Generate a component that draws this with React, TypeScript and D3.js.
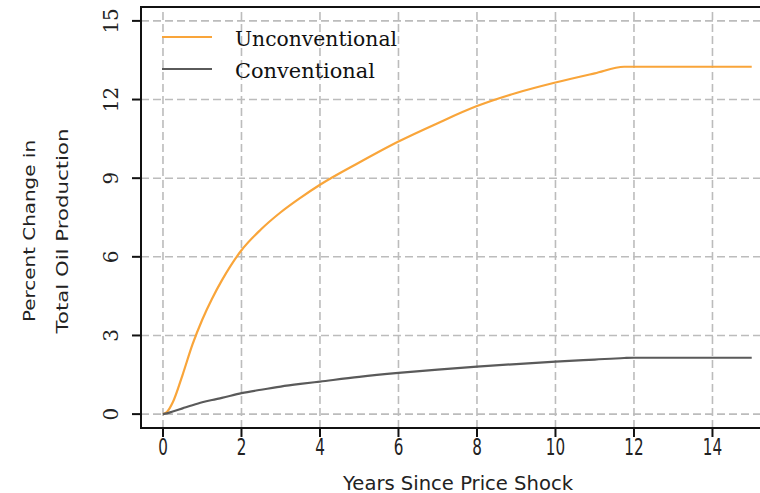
import React from "react";
import * as d3 from "d3";

// Years since the price shock and the percent change in total oil production
const years = [0, 0.1, 0.25, 0.5, 0.75, 1, 1.25, 1.5, 2, 2.5, 3, 3.5, 4, 5, 6, 7, 8, 9, 10, 11, 11.75, 12, 13, 14, 15];
const unconventional = [0, 0.08, 0.45, 1.5, 2.65, 3.6, 4.4, 5.1, 6.25, 7.05, 7.7, 8.25, 8.75, 9.6, 10.4, 11.1, 11.75, 12.25, 12.65, 13.0, 13.25, 13.25, 13.25, 13.25, 13.25];
const conventional = [0, 0.03, 0.1, 0.22, 0.34, 0.45, 0.54, 0.62, 0.8, 0.93, 1.05, 1.15, 1.24, 1.42, 1.57, 1.7, 1.81, 1.91, 2.0, 2.08, 2.14, 2.15, 2.15, 2.15, 2.15];

const xTicks = [0, 2, 4, 6, 8, 10, 12, 14];
const yTicks = [0, 3, 6, 9, 12, 15];

const seriesNames = ["Unconventional", "Conventional"];
const seriesColors = ["#f9a53a", "#5a5a5a"];
const legendWidths = [162, 140];

const W = 760;
const H = 493;

export default function App() {
  const x = d3.scaleLinear().domain([-0.56, 15.56]).range([141, 773.7]);
  const y = d3.scaleLinear().domain([-0.53, 15.53]).range([428, 7]);

  const line = d3
    .line<[number, number]>()
    .x((d) => x(d[0]))
    .y((d) => y(d[1]))
    .curve(d3.curveMonotoneX);

  const series = [unconventional, conventional].map((vals) =>
    years.map((t, i) => [t, vals[i]] as [number, number])
  );

  const [x0, x1] = x.range();
  const [y0, y1] = y.range();

  return (
    <svg
      width={W}
      height={H}
      style={{ position: "absolute", left: 0, top: 0, background: "#fff" }}
    >
      {/* grid */}
      <g stroke="#bcbcbc" strokeWidth={1.6} strokeDasharray="8,4" fill="none">
        {xTicks.map((t) => (
          <line key={"gx" + t} x1={x(t)} x2={x(t)} y1={y0} y2={y1} />
        ))}
        {yTicks.map((t) => (
          <line key={"gy" + t} x1={x0} x2={x1} y1={y(t)} y2={y(t)} />
        ))}
      </g>

      {/* series */}
      {series.map((s, i) => (
        <path
          key={seriesNames[i]}
          d={line(s) ?? ""}
          fill="none"
          stroke={seriesColors[i]}
          strokeWidth={2.2}
          strokeLinejoin="round"
        />
      ))}

      {/* frame */}
      <g stroke="#111" strokeWidth={2} fill="none">
        <line x1={x0} x2={x0} y1={y0 + 1} y2={y1 - 1} />
        <line x1={x0 - 1} x2={x1} y1={y0} y2={y0} />
        <line x1={x0 - 1} x2={x1} y1={y1} y2={y1} />
        <line x1={x1} x2={x1} y1={y0} y2={y1} />
      </g>

      {/* x axis */}
      <g>
        {xTicks.map((t) => (
          <g key={"xt" + t} transform={`translate(${x(t)},0)`}>
            <line y1={y0} y2={y0 + 9} stroke="#111" strokeWidth={2} />
            <text
              transform={`translate(0,${455}) scale(0.66,1)`}
              textAnchor="middle"
              fontFamily="DejaVu Sans"
              fontSize={23}
              fill="#222"
            >
              {t}
            </text>
          </g>
        ))}
        <text
          x={458}
          y={490}
          textAnchor="middle"
          fontFamily="DejaVu Sans"
          fontSize={19}
          fill="#222"
          textLength={230}
          lengthAdjust="spacingAndGlyphs"
        >
          Years Since Price Shock
        </text>
      </g>

      {/* y axis */}
      <g>
        {yTicks.map((t) => (
          <g key={"yt" + t} transform={`translate(0,${y(t)})`}>
            <line x1={x0 - 9} x2={x0} stroke="#111" strokeWidth={2} />
            <text
              transform="translate(118,0) rotate(-90)"
              textAnchor="middle"
              fontFamily="DejaVu Serif"
              fontSize={20}
              fill="#222"
            >
              {t}
            </text>
          </g>
        ))}
        <text
          transform="translate(35,231) rotate(-90)"
          textAnchor="middle"
          fontFamily="DejaVu Sans"
          fontSize={16}
          fill="#222"
          textLength={182}
          lengthAdjust="spacingAndGlyphs"
        >
          Percent Change in
        </text>
        <text
          transform="translate(68,231) rotate(-90)"
          textAnchor="middle"
          fontFamily="DejaVu Sans"
          fontSize={16}
          fill="#222"
          textLength={205}
          lengthAdjust="spacingAndGlyphs"
        >
          Total Oil Production
        </text>
      </g>

      {/* legend */}
      <g>
        {seriesNames.map((name, i) => (
          <g key={"lg" + name} transform={`translate(0,${37 + i * 32})`}>
            <line x1={162} x2={212} stroke={seriesColors[i]} strokeWidth={2} />
            <text
              x={235}
              y={9}
              fontFamily="DejaVu Serif"
              fontSize={21}
              fill="#111"
              textLength={legendWidths[i]}
              lengthAdjust="spacingAndGlyphs"
            >
              {name}
            </text>
          </g>
        ))}
      </g>
    </svg>
  );
}
